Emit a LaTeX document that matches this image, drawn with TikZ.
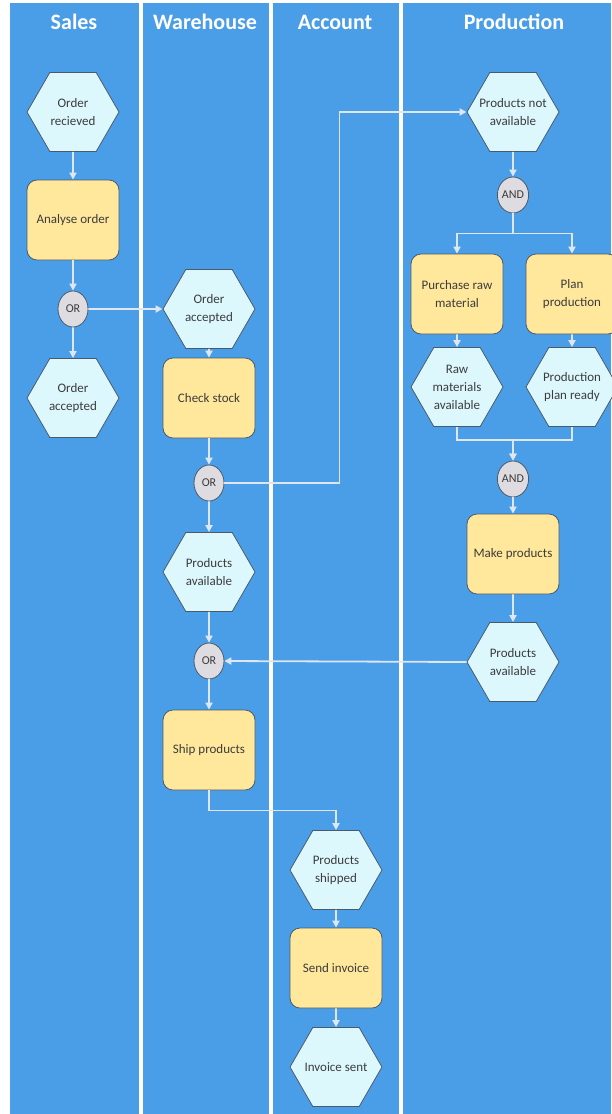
\documentclass[tikz,border=0pt]{standalone}
\usepackage{fontspec}
\setmainfont{Carlito}
\usepackage{xcolor}
\usepackage{tikz}
\usetikzlibrary{arrows.meta, positioning, shapes.symbols, shapes.geometric}

\definecolor{laneblue}{RGB}{74,158,232}
\definecolor{eventfill}{RGB}{221,248,253}
\definecolor{funcfill}{RGB}{255,232,155}
\definecolor{gatefill}{RGB}{222,220,224}
\definecolor{edgegray}{RGB}{75,90,105}
\definecolor{flowline}{RGB}{222,230,240}
\definecolor{labeltext}{RGB}{60,60,60}

\begin{document}
\begin{tikzpicture}[
x=1pt, y=1pt,
node distance=89pt,
lanetitle/.style={text=white, font=\fontsize{22}{26}\selectfont\bfseries},
event/.style={
    shape=signal, signal to=west and east, signal pointer angle=120,
    draw=edgegray, line width=0.8pt, fill=eventfill, text=labeltext,
    align=center, minimum width=92pt, minimum height=79pt,
    inner xsep=-12pt, inner ysep=0pt,
    font=\fontsize{13}{18}\selectfont
},
func/.style={
    draw=edgegray, line width=0.8pt, fill=funcfill, text=labeltext,
    rounded corners=10pt, align=center,
    minimum width=92pt, minimum height=80pt, inner sep=2pt,
    font=\fontsize{13}{18}\selectfont
},
gate/.style={
    draw=edgegray, line width=0.8pt, fill=gatefill, text=labeltext,
    ellipse, minimum width=30pt, minimum height=36pt, inner sep=0pt,
    font=\fontsize{12}{14}\selectfont
},
arrow/.style={-{Triangle[length=7pt, width=7pt]}, draw=flowline, line width=1.8pt}
]

% page and swimlanes
\useasboundingbox (0,0) rectangle (611,-1114);
\fill[white] (0,0) rectangle (611,-1114);
\fill[laneblue] (10,-3) rectangle (611,-1114);
\foreach \xs in {140.5, 270.5, 400.5}
    \draw[white, line width=4pt] (\xs,-3) -- (\xs,-1114);

\node (salesT) [lanetitle] at (74,-22) {Sales};
\node (wareT) [lanetitle] at (205,-22) {Warehouse};
\node (accT) [lanetitle] at (335,-22) {Account};
\node (prodT) [lanetitle] at (514,-22) {Production};

% sales
\node (recv) [event] at (73,-112) {Order\\recieved};
\node (analyse) [below of=recv, yshift=-19pt, func] {Analyse order};
\node (or1) [below of=analyse, gate] {OR};
\node (acc1) [below of=or1, event] {Order\\accepted};

% warehouse
\node (acc2) [right of=or1, xshift=47pt, event] {Order\\accepted};
\node (check) [below of=acc2, func] {Check stock};
\node (or2) [below of=check, yshift=4pt, gate] {OR};
\node (avail1) [below of=or2, event] {Products\\available};
\node (or3) [below of=avail1, gate] {OR};
\node (ship) [below of=or3, func] {Ship products};

% account
\node (shipped) [below of=ship, xshift=127pt, yshift=-31pt, event] {Products\\shipped};
\node (invoice) [below of=shipped, yshift=-9pt, func] {Send invoice};
\node (sent) [below of=invoice, yshift=-10pt, event] {Invoice sent};

% production
\node (notavail) [event] at (513,-112) {Products not\\available};
\node (and1) [below of=notavail, yshift=6pt, gate] {AND};
\node (purchase) [below of=and1, xshift=-56pt, yshift=-10pt, func] {Purchase raw\\material};
\node (plan) [right of=purchase, xshift=26pt, func] {Plan\\production};
\node (rawavail) [below of=purchase, yshift=-4pt, event] {Raw\\materials\\available};
\node (planready) [below of=plan, yshift=-4pt, event] {Production\\plan ready};
\node (and2) [below of=rawavail, xshift=56pt, yshift=-3pt, gate] {AND};
\node (make) [below of=and2, yshift=14pt, func] {Make products};
\node (avail2) [below of=make, yshift=-19pt, event] {Products\\available};

\draw[arrow] (recv) -- (analyse);
\draw[arrow] (analyse) -- (or1);
\draw[arrow] (or1) -- (acc1);
\draw[arrow] (or1) -- (acc2);

\draw[arrow] (acc2) -- (check);
\draw[arrow] (check) -- (or2);
\draw[arrow] (or2.east) -- ++(115,0) |- (notavail.west);
\draw[arrow] (or2) -- (avail1);
\draw[arrow] (avail1) -- (or3);
\draw[arrow] (or3) -- (ship);
\draw[arrow] (ship.south) -- ++(0,-20) -| (shipped.north);

\draw[arrow] (shipped) -- (invoice);
\draw[arrow] (invoice) -- (sent);

\draw[arrow] (notavail) -- (and1);
\draw[arrow] (and1.south) -- ++(0,-20) -| (purchase.north);
\draw[arrow] (and1.south) -- ++(0,-20) -| (plan.north);
\draw[arrow] (purchase) -- (rawavail);
\draw[arrow] (plan) -- (planready);
\draw[arrow] (rawavail.south) -- ++(0,-13) -| (and2.north);
\draw[arrow] (planready.south) -- ++(0,-13) -| (and2.north);
\draw[arrow] (and2) -- (make);
\draw[arrow] (make) -- (avail2);
\draw[arrow] (avail2.west) -- (or3.east);

\end{tikzpicture}
\end{document}
